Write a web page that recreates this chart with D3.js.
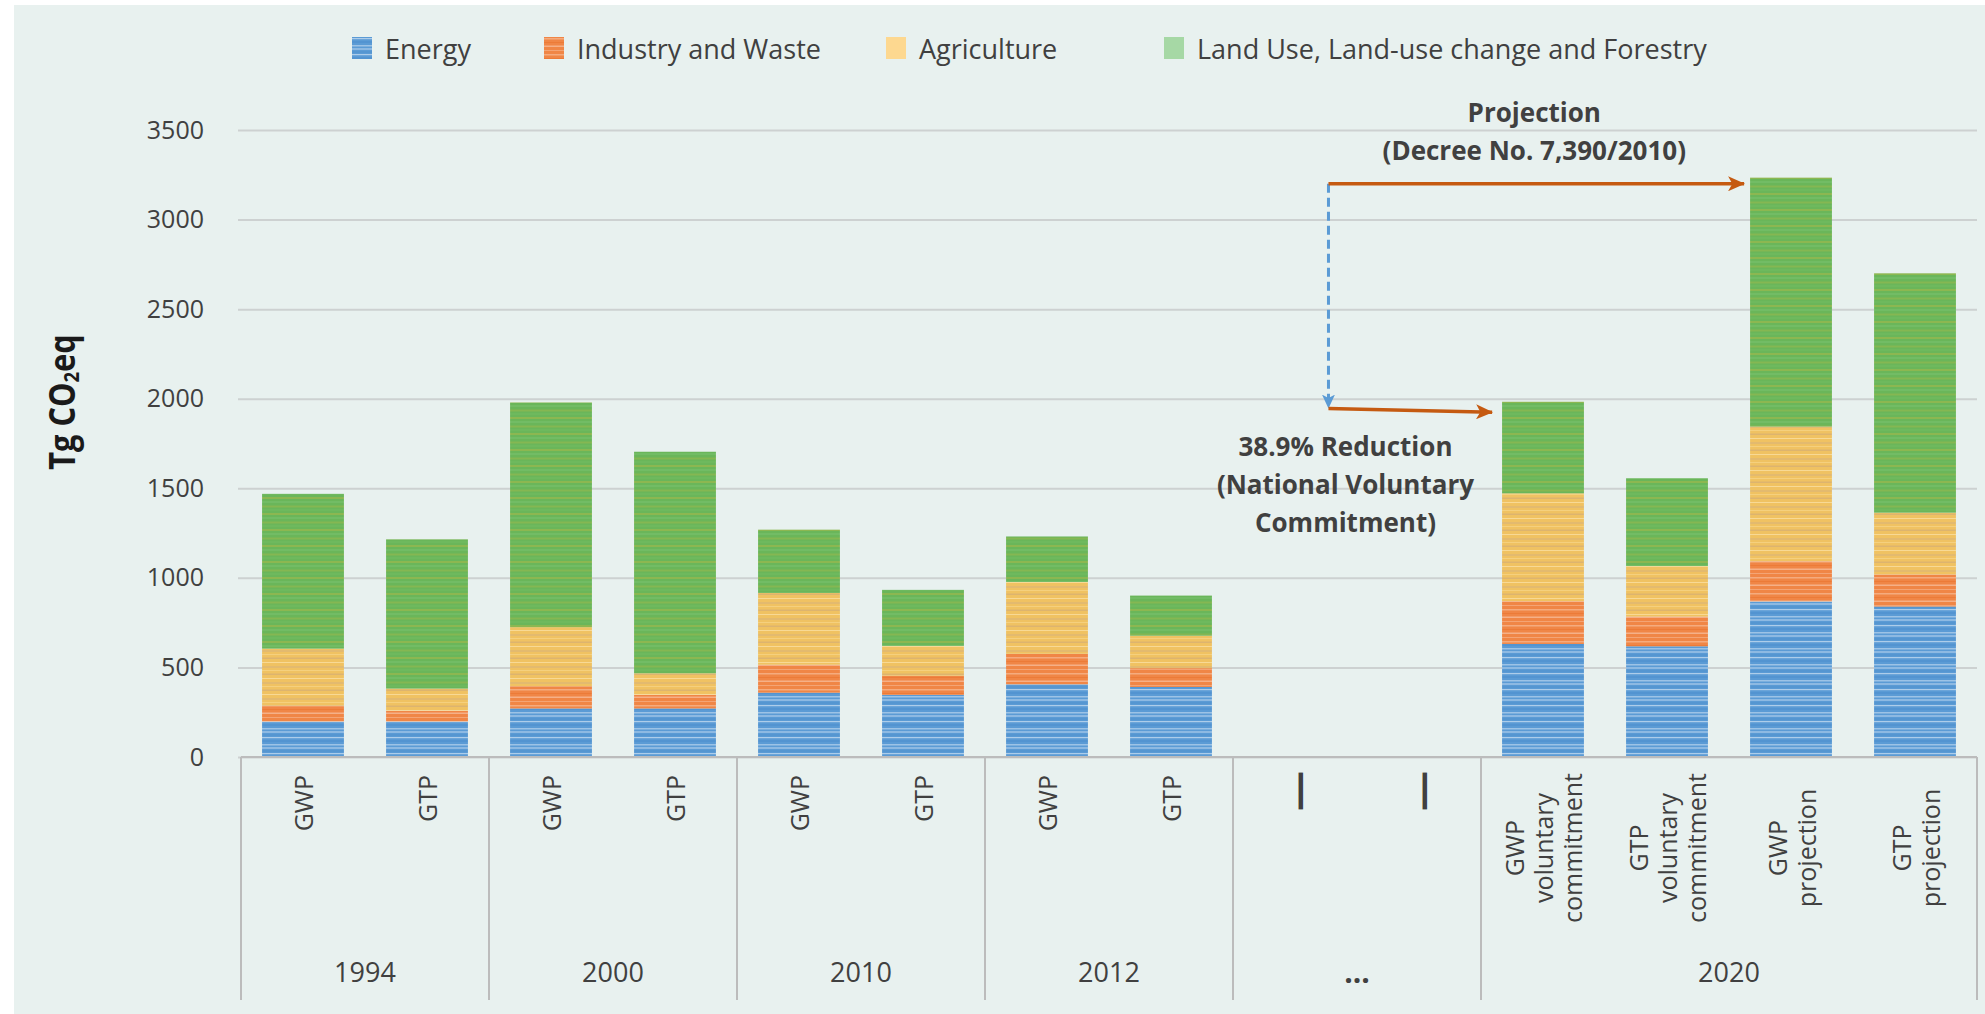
<!DOCTYPE html>
<html lang="en">
<head>
<meta charset="UTF-8">
<script src="https://cdn.jsdelivr.net/npm/d3@7"></script>
<title>Brazil - GHG emissions</title>
<style>
    body { margin: 0; background: #ffffff; }
    text { font-family: "Open Sans", sans-serif; fill: #404040; }
</style>
</head>
<body>
<div id="viz"></div>
<script>
// one entry per bar slot
const years = ["1994", "1994", "2000", "2000", "2010", "2010", "2012", "2012", "...", "...", "2020", "2020", "2020", "2020"]
const metrics = ["GWP", "GTP", "GWP", "GTP", "GWP", "GTP", "GWP", "GTP", "\u2014", "\u2014",
    "GWP\nvoluntary\ncommitment", "GTP\nvoluntary\ncommitment", "GWP\nprojection", "GTP\nprojection"]

// Tg CO2eq per sector
const energy = [198, 198, 271, 271, 359, 347, 406, 391, 0, 0, 631, 618, 868, 840]
const industry = [88, 60, 124, 76, 156, 107, 170, 105, 0, 0, 239, 166, 225, 179]
const agriculture = [319, 124, 330, 120, 401, 166, 401, 181, 0, 0, 602, 282, 751, 345]
const landUse = [864, 833, 1254, 1237, 353, 313, 254, 224, 0, 0, 511, 490, 1390, 1336]

const seriesNames = ["Energy", "Industry and Waste", "Agriculture", "Land Use, Land-use change and Forestry"]
const yTicks = [0, 500, 1000, 1500, 2000, 2500, 3000, 3500]

// annotation levels
const projectionLevel = 3200
const commitmentStart = 1945
const commitmentEnd = 1925

const fullWidth = 1985
const fullHeight = 1014
const plot = { left: 241, right: 1977, top: 130, bottom: 757 }

const svg = d3.select("#viz")
    .append("svg")
    .attr("width", fullWidth)
    .attr("height", fullHeight)

svg.append("rect")
    .attr("x", 14).attr("y", 5)
    .attr("width", fullWidth - 14).attr("height", fullHeight - 5)
    .attr("fill", "#e8f1ef")

const defs = svg.append("defs")

// striped fills, similar to the picture fills of the original
function stripes(id, base, lines) {
    const p = defs.append("pattern")
        .attr("id", id)
        .attr("patternUnits", "userSpaceOnUse")
        .attr("width", 10).attr("height", 16)
    p.append("rect").attr("width", 10).attr("height", 16).attr("fill", base)
    lines.forEach(l => {
        p.append("rect").attr("y", l[0]).attr("width", 10).attr("height", l[1])
            .attr("fill", l[2]).attr("opacity", l[3])
    })
}
stripes("p0", "#5b9bd5", [[1, 1.2, "#ffffff", 0.5], [4.5, 1, "#3a7fc4", 0.5], [8, 1.5, "#ffffff", 0.4], [11.5, 1, "#ffffff", 0.6], [14.5, 1, "#3a7fc4", 0.4]])
stripes("p1", "#f08646", [[1, 1.5, "#ffffff", 0.3], [5, 1, "#e86f2a", 0.5], [8.5, 1.5, "#ffffff", 0.35], [13, 1, "#ffffff", 0.25]])
stripes("p2", "#f0c262", [[1.5, 1.5, "#c9a67c", 0.5], [6, 1, "#fff0c8", 0.5], [10, 2, "#d2b07e", 0.45], [14, 1, "#fde6a8", 0.4]])
stripes("p3", "#6ab65a", [[1, 2, "#a8b848", 0.55], [5.5, 1, "#8ccf86", 0.5], [9.5, 2, "#a0b84a", 0.5], [13.5, 1, "#79c26a", 0.5]])

const fills = ["url(#p0)", "url(#p1)", "url(#p2)", "url(#p3)"]
const legendFills = ["url(#p0)", "url(#p1)", "#fdd890", "#a6d8a5"]

const xScale = d3.scaleBand()
    .domain(d3.range(years.length))
    .range([plot.left, plot.right])
const step = xScale.step()

const yScale = d3.scaleLinear()
    .domain([0, 3500])
    .range([plot.bottom, plot.top])

// gridlines + tick labels
const yAxis = svg.append("g")
    .attr("transform", `translate(${plot.left - 3},0)`)
    .call(d3.axisLeft(yScale).tickValues(yTicks).tickFormat(d3.format("d"))
        .tickSize(-(plot.right - plot.left + 3)).tickPadding(34))
yAxis.select(".domain").remove()
yAxis.selectAll(".tick line").attr("stroke", "#cdd1d1").attr("stroke-width", 2)
yAxis.selectAll(".tick text")
    .attr("font-family", "Open Sans")
    .attr("font-size", 25)
    .attr("fill", "#404040")

// stacked bars
const rows = years.map((y, i) => ({
    i: i, s0: energy[i], s1: industry[i], s2: agriculture[i], s3: landUse[i]
}))
const stacked = d3.stack().keys(["s0", "s1", "s2", "s3"])(rows)

svg.selectAll(".layer")
    .data(stacked)
    .enter()
    .append("g")
    .attr("fill", (d, k) => fills[k])
    .selectAll("rect")
    .data(d => d.filter(v => v[1] > v[0]))
    .enter()
    .append("rect")
    .attr("x", d => xScale(d.data.i) + step * 0.17)
    .attr("width", step * 0.66)
    .attr("y", d => yScale(d[1]))
    .attr("height", d => yScale(d[0]) - yScale(d[1]))

// category axis: baseline + group separators
const axisG = svg.append("g").attr("stroke", "#bcbcbc").attr("stroke-width", 2)
axisG.append("line")
    .attr("x1", plot.left).attr("x2", plot.right)
    .attr("y1", plot.bottom).attr("y2", plot.bottom)

const groupStarts = d3.range(years.length).filter(i => i === 0 || years[i] !== years[i - 1])
const groups = groupStarts.map((s, k) => {
    const e = k + 1 < groupStarts.length ? groupStarts[k + 1] : years.length
    return { name: years[s], x0: xScale(s), x1: e < years.length ? xScale(e) : plot.right }
})
const sepX = groups.map(g => g.x0).concat([plot.right])
axisG.selectAll(".sep")
    .data(sepX)
    .enter()
    .append("line")
    .attr("x1", d => d).attr("x2", d => d)
    .attr("y1", plot.bottom).attr("y2", 1000)

// rotated bar labels
metrics.forEach((m, i) => {
    const lines = m.split("\n")
    const cx = xScale(i) + step / 2
    const dash = m === "\u2014"
    lines.forEach((line, j) => {
        const lx = cx + (j - (lines.length - 1) / 2) * 29
        const ly = lines.length === 1 ? (dash ? 771 : 775) : 848
        svg.append("text")
            .attr("transform", `translate(${lx},${ly}) rotate(-90)`)
            .attr("text-anchor", lines.length === 1 ? "end" : "middle")
            .attr("dominant-baseline", "central")
            .attr("font-size", dash ? 40 : 25)
            .attr("font-weight", dash ? "bold" : "normal")
            .attr("fill", dash ? "#222" : "#404040")
            .text(line)
    })
})

// group (year) labels
svg.selectAll(".year")
    .data(groups)
    .enter()
    .append("text")
    .attr("x", d => (d.x0 + d.x1) / 2)
    .attr("y", 971)
    .attr("text-anchor", "middle")
    .attr("dominant-baseline", "central")
    .attr("font-size", d => d.name === "..." ? 30 : 27)
    .attr("font-weight", d => d.name === "..." ? "bold" : "normal")
    .text(d => d.name)

// y axis title
const yTitle = svg.append("text")
    .attr("transform", "translate(61,402) rotate(-90) scale(0.88,1)")
    .attr("text-anchor", "middle")
    .attr("dominant-baseline", "central")
    .attr("font-size", 35)
    .attr("font-weight", "bold")
    .style("fill", "#1a1a1a")
yTitle.append("tspan").text("Tg CO")
yTitle.append("tspan").attr("font-size", 21).attr("dy", 9).text("2")
yTitle.append("tspan").attr("dy", -9).text("eq")

// legend
const legendX = [352, 544, 886, 1164]
const legend = svg.selectAll(".legend")
    .data(seriesNames)
    .enter()
    .append("g")
    .attr("transform", (d, k) => `translate(${legendX[k]},37)`)
legend.append("rect")
    .attr("width", 20).attr("height", 22)
    .attr("fill", (d, k) => legendFills[k])
legend.append("text")
    .attr("x", 33).attr("y", 11)
    .attr("dominant-baseline", "central")
    .attr("font-size", 27)
    .text(d => d)

// annotations
const orange = "#c55a11"
const blue = "#5b9bd5"
const arrow = (id, color, w, h) => defs.append("marker")
    .attr("id", id)
    .attr("viewBox", `0 0 ${w} ${h}`)
    .attr("refX", w - 1).attr("refY", h / 2)
    .attr("markerWidth", w).attr("markerHeight", h)
    .attr("markerUnits", "userSpaceOnUse")
    .attr("orient", "auto")
    .append("path")
    .attr("d", `M0,0 L${w},${h / 2} L0,${h} L${w * 0.25},${h / 2} Z`)
    .attr("fill", color)
arrow("arrOrange", orange, 17, 15)
arrow("arrBlue", blue, 14, 13)

const ax0 = xScale(9) - step * 0.23
const projBar = xScale(12) + step * 0.17
const volBar = xScale(10) + step * 0.17

svg.append("line")
    .attr("x1", ax0).attr("x2", ax0)
    .attr("y1", yScale(projectionLevel)).attr("y2", yScale(commitmentStart) - 1)
    .attr("stroke", blue).attr("stroke-width", 3)
    .attr("stroke-dasharray", "9,5")
    .attr("marker-end", "url(#arrBlue)")

svg.append("line")
    .attr("x1", ax0).attr("x2", projBar - 6)
    .attr("y1", yScale(projectionLevel)).attr("y2", yScale(projectionLevel))
    .attr("stroke", orange).attr("stroke-width", 3.5)
    .attr("marker-end", "url(#arrOrange)")

svg.append("line")
    .attr("x1", ax0).attr("x2", volBar - 10)
    .attr("y1", yScale(commitmentStart)).attr("y2", yScale(commitmentEnd))
    .attr("stroke", orange).attr("stroke-width", 3.5)
    .attr("marker-end", "url(#arrOrange)")

const note = (lines, cx, cy) => lines.forEach((t, j) => {
    svg.append("text")
        .attr("x", cx).attr("y", cy + j * 38)
        .attr("text-anchor", "middle")
        .attr("dominant-baseline", "central")
        .attr("font-size", 26)
        .attr("font-weight", "bold")
        .text(t)
})
note(["Projection", "(Decree No. 7,390/2010)"], (ax0 + projBar) / 2 - 5, yScale(projectionLevel) - 72)
note(["38.9% Reduction", "(National Voluntary", "Commitment)"], ax0 + 17, yScale(commitmentEnd) + 34)
</script>
</body>
</html>
